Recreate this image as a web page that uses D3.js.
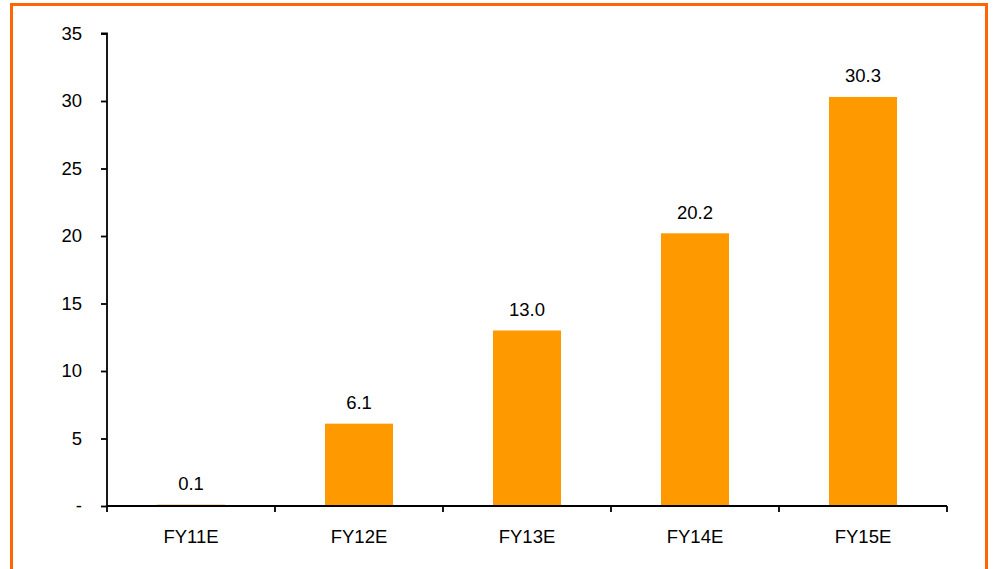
<!DOCTYPE html>
<html><head><meta charset="utf-8">
<script src="https://cdnjs.cloudflare.com/ajax/libs/d3/7.8.5/d3.min.js"></script>
<style>html,body{margin:0;padding:0;background:#fff;}svg{display:block;}</style>
</head><body>
<svg id="c" width="994" height="569"></svg>
<script>
const categories = ["FY11E","FY12E","FY13E","FY14E","FY15E"];
const values = [0.1, 6.1, 13.0, 20.2, 30.3];
const yTicks = [0,5,10,15,20,25,30,35];
const yTickLabels = ["-","5","10","15","20","25","30","35"];

(function(){
const svg = d3.select("#c");
const font = "Liberation Sans, Arial, sans-serif";
const fs = 18.5;
// outer border
svg.append("rect").attr("x",11.5).attr("y",4.5).attr("width",975).attr("height",580)
  .attr("fill","none").attr("stroke","#FF6600").attr("stroke-width",3);

const pLeft=107, pRight=947, pTop=33.5, pBottom=506;
const x = d3.scaleBand().domain(categories).range([pLeft,pRight]).paddingInner(0.595).paddingOuter(0.2975);
const y = d3.scaleLinear().domain([0,35]).range([pBottom,pTop]);

svg.selectAll("rect.bar").data(values).enter().append("rect").attr("class","bar")
  .attr("x",(d,i)=>x(categories[i])).attr("width",x.bandwidth())
  .attr("y",d=>y(d)).attr("height",d=>pBottom-y(d)).attr("fill","#FF9900");

// y axis
const yAxis = d3.axisLeft(y).tickValues(yTicks).tickSize(6).tickPadding(19)
  .tickFormat((d,i)=>yTickLabels[i]);
const gy = svg.append("g").attr("transform",`translate(${pLeft},0)`).call(yAxis);
gy.select(".domain").attr("stroke","#000").attr("stroke-width",1.8).attr("d",`M-6,${pTop}H0V${pBottom}`);
gy.selectAll(".tick line").attr("stroke","#000").attr("stroke-width",1.8);
gy.selectAll(".tick text").attr("font-family",font).attr("font-size",fs).attr("fill","#000");

// x axis
const xb = d3.scaleLinear().domain([0,5]).range([pLeft,pRight]);
svg.append("line").attr("x1",pLeft).attr("x2",pRight).attr("y1",pBottom).attr("y2",pBottom)
  .attr("stroke","#000").attr("stroke-width",2);
svg.selectAll("line.xt").data(d3.range(6)).enter().append("line").attr("class","xt")
  .attr("x1",d=>xb(d)).attr("x2",d=>xb(d)).attr("y1",pBottom).attr("y2",pBottom+6)
  .attr("stroke","#000").attr("stroke-width",1.8);
svg.selectAll("text.xl").data(categories).enter().append("text").attr("class","xl")
  .attr("x",d=>x(d)+x.bandwidth()/2).attr("y",543.3).attr("text-anchor","middle")
  .attr("font-family",font).attr("font-size",fs).attr("fill","#000").text(d=>d);

// value labels
svg.selectAll("text.vl").data(values).enter().append("text").attr("class","vl")
  .attr("x",(d,i)=>x(categories[i])+x.bandwidth()/2).attr("y",d=>y(d)-14.5)
  .attr("text-anchor","middle").attr("font-family",font).attr("font-size",fs).attr("fill","#000")
  .text(d=>d.toFixed(1));
})();
</script>
</body></html>
